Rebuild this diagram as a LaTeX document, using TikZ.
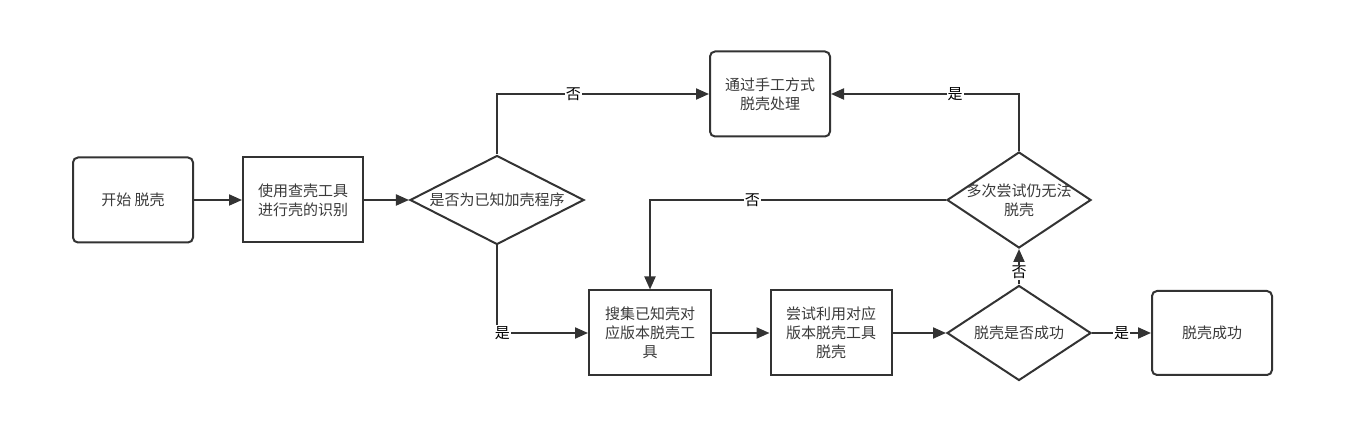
\documentclass[tikz,border=0pt]{standalone}
\usepackage{fontspec}
\setmainfont{Noto Sans CJK SC}
\usepackage{xcolor}
\usetikzlibrary{shapes.geometric, arrows.meta}

\definecolor{trait}{HTML}{333333}
\definecolor{texte}{HTML}{3A3A3A}

\tikzset{
  boite/.style={draw=trait, line width=2pt, minimum width=120pt, minimum height=85pt,
    align=center, text=texte, font=\fontsize{15}{19}\selectfont},
  boiteronde/.style={boite, rounded corners=5pt},
  test/.style={draw=trait, line width=2pt, diamond, inner sep=0pt},
  dedans/.style={align=center, text=texte, font=\fontsize{15}{19}\selectfont},
  fleche/.style={draw=trait, line width=2pt, -{Triangle[length=13pt,width=11pt]}},
  etiq/.style={fill=white, inner sep=1pt, text=black, font=\fontsize{15}{19}\selectfont},
}

\begin{document}
\begin{tikzpicture}[x=1pt, y=-1pt]

% Cadre de l'image
\useasboundingbox (0,0) rectangle (1353,427);

% Ligne du milieu
\node[boiteronde] (debut) at (133,200) {开始 脱壳};
\node[boite] (ident) at (303,200) {使用查壳工具\\进行壳的识别};
\node[test, minimum width=174pt, minimum height=89pt,
  label={[dedans]center:是否为已知加壳程序}] (connu) at (497,200) {};

% Boite du haut
\node[boiteronde] (manuel) at (770,94) {通过手工方式\\脱壳处理};

% Losange en haut a droite
\node[test, minimum width=144pt, minimum height=96pt,
  label={[dedans]center:多次尝试仍无法\\脱壳}] (essais) at (1019,200) {};

% Ligne du bas
\node[boite, minimum width=122pt] (collecte) at (650,333) {搜集已知壳对\\应版本脱壳工\\具};
\node[boite, minimum width=121pt] (outil) at (831,333) {尝试利用对应\\版本脱壳工具\\脱壳};
\node[test, minimum width=144pt, minimum height=95pt,
  label={[dedans]center:脱壳是否成功}] (reussi) at (1019,333) {};
\node[boiteronde, minimum height=84pt] (fin) at (1212,333) {脱壳成功};

% Fleches
\draw[fleche] (debut) -- (ident);
\draw[fleche] (ident) -- (connu);
\draw[fleche] (connu.north) |- node[pos=0.68, etiq] {否} (manuel.west);
\draw[fleche] (connu.south) |- node[pos=0.53, etiq] {是} (collecte.west);
\draw[fleche] (collecte) -- (outil);
\draw[fleche] (outil) -- (reussi);
\draw[fleche] (reussi) -- node[etiq] {是} (fin);
\draw[fleche] (reussi.north) -- node[pos=0.35, etiq] {否} (essais.south);
\draw[fleche] (essais.north) |- node[pos=0.67, etiq] {是} (manuel.east);
\draw[fleche] (essais.west) -| node[pos=0.327, etiq] {否} (collecte.north);

\end{tikzpicture}
\end{document}
